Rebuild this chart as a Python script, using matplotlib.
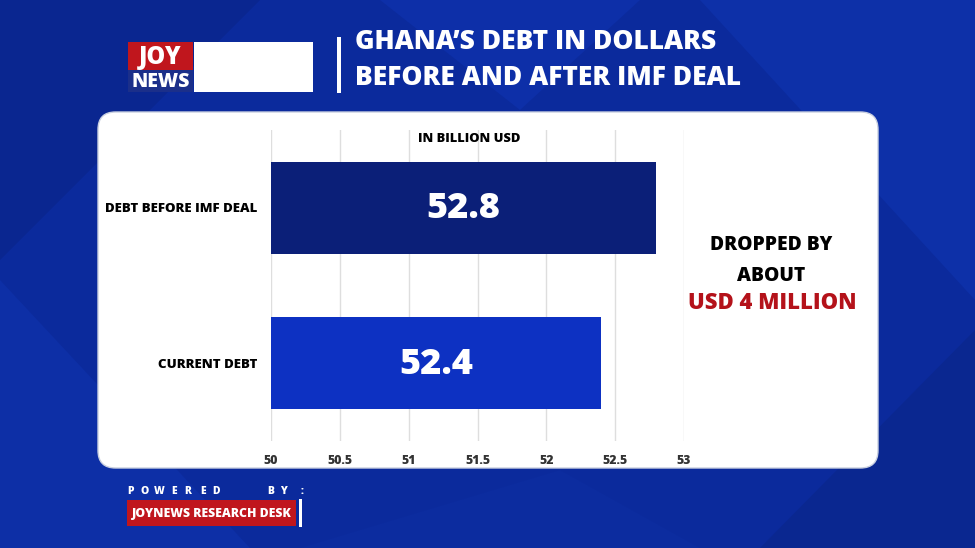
import matplotlib
matplotlib.use("Agg")
import matplotlib.pyplot as plt
from matplotlib.patches import FancyBboxPatch, Rectangle, Polygon

categories = ["DEBT BEFORE IMF DEAL", "CURRENT DEBT"]
values = [52.8, 52.4]
tick_values = [50, 50.5, 51, 51.5, 52, 52.5, 53]
tick_labels = ["50", "50.5", "51", "51.5", "52", "52.5", "53"]
bar_colors = ["#0b1f78", "#0d31c2"]

W, H = 975, 548
FONT = "Open Sans"
WT = "heavy"
plt.rcParams['font.family'] = [FONT, 'DejaVu Sans']

fig = plt.figure(figsize=(W / 100, H / 100), dpi=100)
fig.patch.set_facecolor("#0b2a9c")

def fx(px):
    return px / W

def fy(py):
    return 1 - py / H

# background decorative triangles
tris = [
    ([(0, 0), (260, 0), (0, 260)], "#0a2690"),
    ([(975, 0), (700, 0), (975, 300)], "#0d30a8"),
    ([(0, 548), (0, 280), (250, 548)], "#0d2fa6"),
    ([(975, 548), (975, 330), (760, 548)], "#0a2790"),
    ([(300, 548), (560, 470), (700, 548)], "#0c2c9f"),
    ([(380, 0), (640, 0), (520, 110)], "#0d2fa8"),
]
for pts, c in tris:
    fig.patches.append(Polygon([(fx(x), fy(y)) for x, y in pts], closed=True,
                               transform=fig.transFigure, facecolor=c,
                               edgecolor="none", zorder=0))

# white panel
panel = FancyBboxPatch((fx(98), fy(468)), fx(878) - fx(98), fy(112) - fy(468),
                       boxstyle="round,pad=0,rounding_size=0.018",
                       transform=fig.transFigure, facecolor="white",
                       edgecolor="#c9d0e0", linewidth=1, zorder=1,
                       mutation_aspect=W / H)
fig.patches.append(panel)

# logo
fig.patches.append(Rectangle((fx(128), fy(70)), fx(193) - fx(128), fy(42) - fy(70),
                             transform=fig.transFigure, facecolor="#c0161d", edgecolor="none", zorder=2))
fig.patches.append(Rectangle((fx(128), fy(92)), fx(193) - fx(128), fy(70) - fy(92),
                             transform=fig.transFigure, facecolor="#1b2f8a", edgecolor="none", zorder=2))
fig.patches.append(Rectangle((fx(194), fy(92)), fx(313) - fx(194), fy(42) - fy(92),
                             transform=fig.transFigure, facecolor="white", edgecolor="none", zorder=2))
fig.text(fx(160.5), fy(57), "JOY", color="white", fontsize=17, fontweight=WT,
         ha="center", va="center", zorder=3)
fig.text(fx(160.5), fy(82), "NEWS", color="white", fontsize=14, fontweight=WT,
         ha="center", va="center", zorder=3)

# title
fig.patches.append(Rectangle((fx(337), fy(93)), fx(4), fy(37) - fy(93),
                             transform=fig.transFigure, facecolor="white", edgecolor="none", zorder=2))
fig.text(fx(355), fy(42), "GHANA\u2019S DEBT IN DOLLARS", color="white", fontsize=19.0,
         fontweight=WT, ha="left", va="center", zorder=3)
fig.text(fx(355), fy(78), "BEFORE AND AFTER IMF DEAL", color="white", fontsize=19.0,
         fontweight=WT, ha="left", va="center", zorder=3)

# powered by (letter-spaced)
pb_letters = ["P", "O", "W", "E", "R", "E", "D", "B", "Y", ":"]
pb_x = [131, 145, 159, 174, 188, 203, 216, 271, 284, 302]
for ch, x in zip(pb_letters, pb_x):
    fig.text(fx(x), fy(492), ch, color="white", fontsize=7.5, fontweight=WT,
             ha="center", va="center", zorder=3)
fig.patches.append(Rectangle((fx(127), fy(526)), fx(296) - fx(127), fy(500) - fy(526),
                             transform=fig.transFigure, facecolor="#c0161d", edgecolor="none", zorder=2))
fig.patches.append(Rectangle((fx(299), fy(527)), fx(3), fy(499) - fy(527),
                             transform=fig.transFigure, facecolor="white", edgecolor="none", zorder=2))
fig.text(fx(211.5), fy(514), "JOYNEWS RESEARCH DESK", color="white", fontsize=8.8,
         fontweight=WT, ha="center", va="center", zorder=3)

# chart axes
ax = fig.add_axes([fx(271), fy(441), fx(684) - fx(271), fy(130) - fy(441)])
ax.set_zorder(5)
ax.patch.set_alpha(0)
ypos = list(range(len(categories)))
ax.barh(ypos, [v - tick_values[0] for v in values], left=tick_values[0],
        height=0.59, color=bar_colors, zorder=3)
for y, v in zip(ypos, values):
    ax.text((tick_values[0] + v) / 2, y + 0.01, f"{v}", color="white", fontsize=26,
            fontweight=WT, ha="center", va="center", zorder=4)
ax.set_xlim(tick_values[0], tick_values[-1])
ax.set_ylim(1.5, -0.5)
ax.set_xticks(tick_values)
ax.set_xticklabels(tick_labels, fontsize=8.8, fontweight=WT, color="#333333")
ax.set_yticks(ypos)
ax.set_yticklabels(categories, fontsize=9.5, fontweight=WT, color="black")
ax.tick_params(axis="both", length=0)
ax.tick_params(axis="x", pad=10)
ax.tick_params(axis="y", pad=10)
ax.grid(axis="x", color="#dedede", linewidth=1, zorder=0)
for s in ax.spines.values():
    s.set_visible(False)
ax.text(0.48, 1.0 - (139 - 130) / 311, "IN BILLION USD", transform=ax.transAxes,
        fontsize=9.3, fontweight=WT, ha="center", va="center", color="black")

# annotation
fig.text(fx(771), fy(245), "DROPPED BY", color="black", fontsize=13.9, fontweight=WT,
         ha="center", va="center", zorder=6)
fig.text(fx(771), fy(276), "ABOUT", color="black", fontsize=13.9, fontweight=WT,
         ha="center", va="center", zorder=6)
fig.text(fx(772), fy(303), "USD 4 MILLION", color="#b4121a", fontsize=15.8, fontweight=WT,
         ha="center", va="center", zorder=6)

fig.savefig("out.png", dpi=100, facecolor=fig.get_facecolor())
